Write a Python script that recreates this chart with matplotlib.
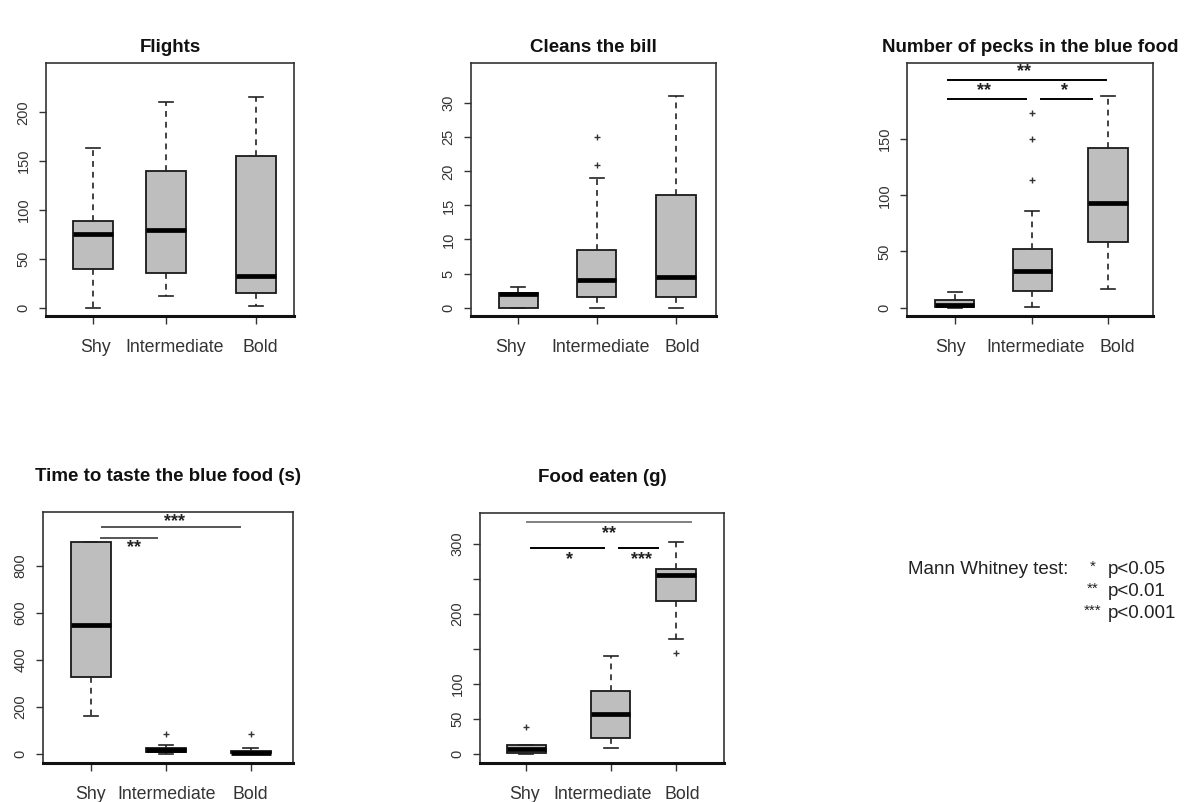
import matplotlib

matplotlib.use("Agg")
import matplotlib.pyplot as plt
from matplotlib.transforms import ScaledTranslation

plt.rcParams["font.family"] = ["Liberation Sans", "DejaVu Sans"]

W, H = 1189, 802
GROUPS = ["Shy", "Intermediate", "Bold"]

# five-number summaries per group: [whisker low, Q1, median, Q3, whisker high]
flights = [[0, 40, 75, 89, 163], [12, 35, 80, 140, 211], [2, 15, 32, 155, 216]]
flights_out = [[], [], []]

bill = [[0, 0, 2, 2.1, 3], [0, 1.5, 4, 8.5, 19], [0, 1.5, 4.5, 16.5, 31]]
bill_out = [[], [21, 25], []]

pecks = [[0, 0.5, 2, 7, 14], [1, 15, 33, 52, 86], [17, 58, 93, 142, 188]]
pecks_out = [[], [114, 150, 173], []]

taste = [[160, 327, 548, 900, 900], [0, 7, 14, 26, 38], [0, 2, 4, 10, 26]]
taste_out = [[], [82], [82]]

food = [[0, 1, 6, 12, 12], [8, 23, 57, 90, 140], [164, 218, 255, 264, 302]]
food_out = [[38], [], [144]]

# significance bars: (x start, x end, bar y, label y, label x, stars, bar colour)
pecks_sig = [(1.0, 2.93, 203, 210, 1.93, "**", "black"),
             (1.0, 1.95, 186, 193, 1.44, "**", "black"),
             (2.13, 2.76, 186, 193, 2.42, "*", "black")]
taste_sig = [(1.21, 2.86, 963, 990, 2.08, "***", "#555555"),
             (1.2, 1.87, 918, 876, 1.59, "**", "#555555")]
food_sig = [(1.08, 3.09, 331, 315, 2.08, "**", "#808080"),
            (1.13, 2.03, 294, 277, 1.6, "*", "black"),
            (2.21, 2.69, 294, 277, 2.49, "***", "black")]

fig = plt.figure(figsize=(W / 100, H / 100), dpi=100)
fig.patch.set_facecolor("white")


def panel(box_px, title, summ, outs, ylim, yticks, ylabels, pos, lab_dx, title_pad, sig=None):
    l, t, r, b = box_px
    ax = fig.add_axes([l / W, 1 - b / H, (r - l) / W, (b - t) / H])
    stats = []
    for name, s, o in zip(GROUPS, summ, outs):
        stats.append({"label": name, "whislo": s[0], "q1": s[1], "med": s[2],
                      "q3": s[3], "whishi": s[4], "fliers": o})
    ax.bxp(stats, positions=pos, widths=0.48, patch_artist=True,
           boxprops=dict(facecolor="#bebebe", edgecolor="#1a1a1a", linewidth=1.3),
           medianprops=dict(color="black", linewidth=3.4, solid_capstyle="butt"),
           whiskerprops=dict(color="#222222", linewidth=1.2, linestyle=(0, (3.5, 3))),
           capprops=dict(color="#222222", linewidth=1.2),
           capwidths=0.17,
           flierprops=dict(marker="+", markersize=4, markeredgecolor="#333333",
                           markeredgewidth=1.0))
    ax.set_xlim(0.5, 3.5)
    ax.set_ylim(*ylim)
    ax.set_yticks(yticks)
    ax.set_yticklabels(ylabels, rotation=90, va="center")
    ax.set_xticks(pos)
    ax.set_xticklabels(GROUPS)
    ax.tick_params(axis="y", length=5, width=1, pad=6, labelsize=10.5, colors="#333333")
    ax.tick_params(axis="x", length=6, width=1, pad=10.5, labelsize=12.8, colors="#333333")
    for lab, dx in zip(ax.get_xticklabels(), lab_dx):
        lab.set_transform(lab.get_transform() + ScaledTranslation(dx / 100, 0, fig.dpi_scale_trans))
    for sp in ax.spines.values():
        sp.set_color("#333333")
        sp.set_linewidth(1.2)
    ax.spines["bottom"].set_linewidth(2.2)
    ax.spines["bottom"].set_color("#111111")
    ax.set_title(title, fontsize=13.5, fontweight="bold", pad=title_pad, color="#111111")
    if sig:
        for x0, x1, yb, yt, xt, stars, col in sig:
            ax.plot([x0, x1], [yb, yb], color=col, linewidth=1.4)
            ax.text(xt, yt, stars, ha="center", va="center", fontsize=13,
                    fontweight="bold", color="#222222")
    return ax


panel((46, 63, 294, 316), "Flights", flights, flights_out, (-8.5, 250.4),
      [0, 50, 100, 150, 200], ["0", "50", "100", "150", "200"], [1.07, 1.95, 3.04],
      [2, 9, 4], 8)
panel((471, 63, 716, 316), "Cleans the bill", bill, bill_out, (-1.23, 35.9),
      [0, 5, 10, 15, 20, 25, 30], ["0", "5", "10", "15", "20", "25", "30"], [1.08, 2.04, 3.01],
      [-8, 4, 6], 8)
panel((907, 63, 1153, 316), "Number of pecks in the blue food", pecks, pecks_out, (-7.4, 217.7),
      [0, 50, 100, 150], ["0", "50", "100", "150"], [1.08, 2.03, 2.95],
      [-4, 3, 9], 8, sig=pecks_sig)
panel((43, 512, 293, 763), "Time to taste the blue food (s)", taste, taste_out, (-40, 1029),
      [0, 200, 400, 600, 800], ["0", "200", "400", "600", "800"], [1.08, 1.98, 2.99],
      [-1, 0, 0], 22, sig=taste_sig)
panel((480, 513, 724, 763), "Food eaten (g)", food, food_out, (-13.3, 343.7),
      [0, 50, 100, 150, 200, 250, 300], ["0", "50", "100", "", "200", "", "300"],
      [1.07, 2.11, 2.91], [-2, -8, 6], 22, sig=food_sig)

# legend for significance levels
ty = [569, 591, 613]
fig.text(908 / W, 1 - ty[0] / H, "Mann Whitney test:", fontsize=13.5, color="#222222", va="center")
for y, stars, p in zip(ty, ["*", "**", "***"], ["p<0.05", "p<0.01", "p<0.001"]):
    fig.text(1093 / W, 1 - (y - 2) / H, stars, fontsize=11, color="#222222", va="center", ha="center")
    fig.text(1108 / W, 1 - y / H, p, fontsize=13.5, color="#222222", va="center")

fig.savefig("out.png", dpi=100)
